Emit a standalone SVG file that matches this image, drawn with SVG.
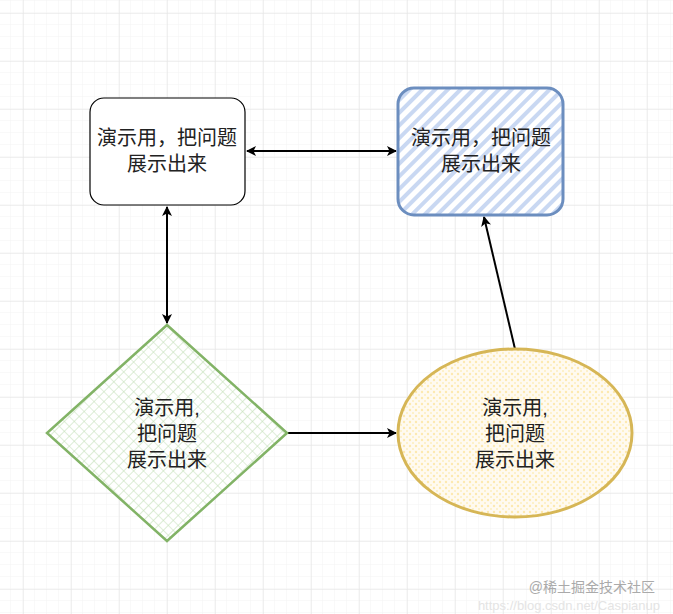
<svg xmlns="http://www.w3.org/2000/svg" width="673" height="614" viewBox="0 0 673 614">
<defs>
<pattern id="minor" width="12" height="12" patternUnits="userSpaceOnUse" x="11" y="1"><path d="M12 0V12M0 12H12" fill="none" stroke="#f3f3f3" stroke-width="1"/></pattern>
<pattern id="major" width="48" height="48" patternUnits="userSpaceOnUse" x="23" y="13"><path d="M0 0V48M0 0H48" fill="none" stroke="#e2e2e2" stroke-width="1"/></pattern>
<pattern id="hatch" width="9" height="9" patternUnits="userSpaceOnUse" patternTransform="rotate(45)"><rect width="9" height="9" fill="#fff"/><rect width="4" height="9" fill="#c9d8f2"/></pattern>
<pattern id="cross" width="7" height="7" patternUnits="userSpaceOnUse" patternTransform="rotate(45)"><rect width="7" height="7" fill="#fff"/><path d="M0 0H7M0 0V7" stroke="#c3e0b8" stroke-width="1.2"/></pattern>
<pattern id="dots" width="6" height="6" patternUnits="userSpaceOnUse"><rect width="6" height="6" fill="#fffaf0"/><circle cx="2" cy="2" r="1.2" fill="#fde9b0"/><circle cx="5" cy="5" r="1" fill="#fdeebd"/></pattern>
<marker id="ah" viewBox="0 0 10 10" refX="9" refY="5" markerWidth="11" markerHeight="10" orient="auto-start-reverse" markerUnits="userSpaceOnUse"><path d="M0 0L10 5L0 10L2.5 5Z" fill="#000"/></marker>
</defs>
<style>
.t{font-family:"Liberation Sans","Noto Sans CJK SC",sans-serif;font-size:20px;fill:#222;text-anchor:middle}
.c{fill:none;stroke:#000;stroke-width:2}
</style>
<rect width="673" height="614" fill="#fff"/>
<rect width="673" height="614" fill="url(#minor)"/>
<rect width="673" height="614" fill="url(#major)"/>
<g id="connectors">
<line class="c" x1="247" y1="151" x2="396" y2="151" marker-start="url(#ah)" marker-end="url(#ah)"/>
<line class="c" x1="167" y1="207" x2="167" y2="323" marker-start="url(#ah)" marker-end="url(#ah)"/>
<line class="c" x1="287" y1="433" x2="396" y2="433" marker-end="url(#ah)"/>
<line class="c" x1="515" y1="349" x2="484" y2="217" marker-end="url(#ah)"/>
</g>
<g id="node1">
<rect x="90" y="98" width="155" height="107" rx="14" fill="#fff" stroke="#000" stroke-width="1.2"/>
<text class="t" x="167" y="145">演示用，把问题</text>
<text class="t" x="167" y="171">展示出来</text>
</g>
<g id="node2">
<rect x="398" y="88" width="165" height="127" rx="16" fill="url(#hatch)" stroke="#6c8ebf" stroke-width="3"/>
<text class="t" x="481" y="145">演示用，把问题</text>
<text class="t" x="481" y="171">展示出来</text>
</g>
<g id="node3">
<polygon points="167,325 287,433 167,541 47,433" fill="url(#cross)" stroke="#82b366" stroke-width="2.5"/>
<text class="t" x="167" y="415">演示用,</text>
<text class="t" x="167" y="441">把问题</text>
<text class="t" x="167" y="467">展示出来</text>
</g>
<g id="node4">
<ellipse cx="515" cy="433" rx="117" ry="84" fill="url(#dots)" stroke="#d6b656" stroke-width="3"/>
<text class="t" x="515" y="415">演示用,</text>
<text class="t" x="515" y="441">把问题</text>
<text class="t" x="515" y="467">展示出来</text>
</g>
<text x="655" y="592" style="font-family:'Liberation Sans','Noto Sans CJK SC',sans-serif;font-size:14px;fill:#aaa;text-anchor:end">@稀土掘金技术社区</text>
<text x="660" y="610" style="font-family:'Liberation Sans',sans-serif;font-size:13px;fill:#e4e4e4;text-anchor:end">https://blog.csdn.net/Caspianup</text>
</svg>
